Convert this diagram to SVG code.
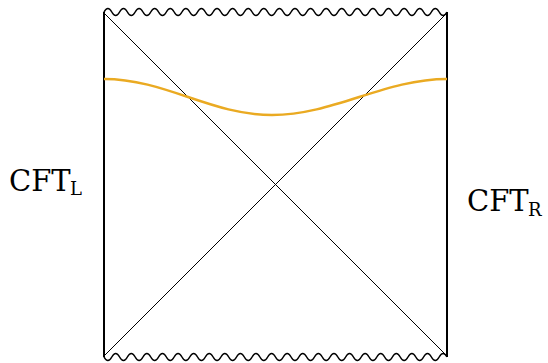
<svg xmlns="http://www.w3.org/2000/svg" width="548" height="363" viewBox="0 0 548 363">
<style>
.edge{stroke:#000;stroke-width:2;fill:none}
.diag{stroke:#000;stroke-width:1;fill:none}
.wave{stroke:#000;stroke-width:1.5;fill:none;stroke-linejoin:round}
.slice{stroke:#EAAA22;stroke-width:2.5;fill:none}
.lbl{font-family:"DejaVu Serif",serif;fill:#000;font-size:29px}
.sub{font-size:18px}
</style>
<rect width="548" height="363" fill="#fff"/>
<g id="connectors">
<line class="diag" x1="104" y1="13" x2="447" y2="356"/>
<line class="diag" x1="104" y1="356" x2="447" y2="13"/>
</g>
<g id="left-boundary"><line class="edge" x1="104" y1="12" x2="104" y2="357"/></g>
<g id="right-boundary"><line class="edge" x1="447" y1="12" x2="447" y2="357"/></g>
<g id="top-singularity"><path class="wave" d="M104,12 q3.898,-7 7.795,0 t7.795,0 t7.795,0 t7.795,0 t7.795,0 t7.795,0 t7.795,0 t7.795,0 t7.795,0 t7.795,0 t7.795,0 t7.795,0 t7.795,0 t7.795,0 t7.795,0 t7.795,0 t7.795,0 t7.795,0 t7.795,0 t7.795,0 t7.795,0 t7.795,0 t7.795,0 t7.795,0 t7.795,0 t7.795,0 t7.795,0 t7.795,0 t7.795,0 t7.795,0 t7.795,0 t7.795,0 t7.795,0 t7.795,0 t7.795,0 t7.795,0 t7.795,0 t7.795,0 t7.795,0 t7.795,0 t7.795,0 t7.795,0 t7.795,0 t7.795,0"/></g>
<g id="bottom-singularity"><path class="wave" d="M104,357 q3.898,7 7.795,0 t7.795,0 t7.795,0 t7.795,0 t7.795,0 t7.795,0 t7.795,0 t7.795,0 t7.795,0 t7.795,0 t7.795,0 t7.795,0 t7.795,0 t7.795,0 t7.795,0 t7.795,0 t7.795,0 t7.795,0 t7.795,0 t7.795,0 t7.795,0 t7.795,0 t7.795,0 t7.795,0 t7.795,0 t7.795,0 t7.795,0 t7.795,0 t7.795,0 t7.795,0 t7.795,0 t7.795,0 t7.795,0 t7.795,0 t7.795,0 t7.795,0 t7.795,0 t7.795,0 t7.795,0 t7.795,0 t7.795,0 t7.795,0 t7.795,0 t7.795,0"/></g>
<g id="slice"><path class="slice" d="M104,79 C165.5,79 210.5,115 272,115 C334,115 384.5,79 447,79"/></g>
<g id="cft-left"><text class="lbl" x="9" y="191">CFT</text><text class="lbl sub" x="70" y="195">L</text></g>
<g id="cft-right"><text class="lbl" x="467" y="211">CFT</text><text class="lbl sub" x="528" y="215.5">R</text></g>
</svg>
